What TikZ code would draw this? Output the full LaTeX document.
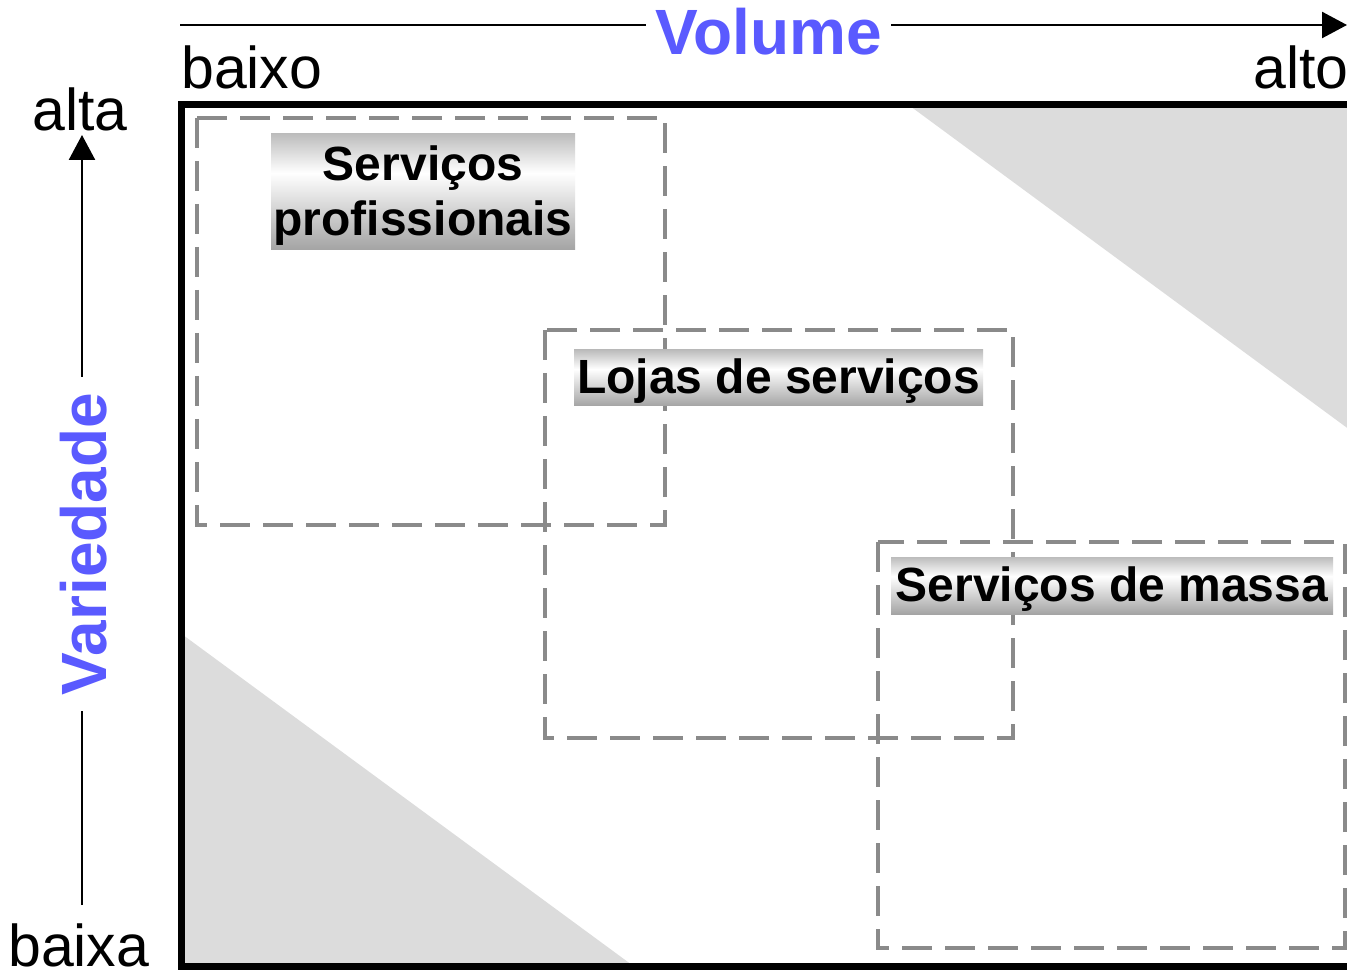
\documentclass[tikz,border=0pt]{standalone}
\usepackage{fontspec}
\setmainfont{Liberation Sans}
\usetikzlibrary{arrows.meta}
\definecolor{volblue}{HTML}{5A5AFF}
\definecolor{zonegray}{HTML}{DCDCDC}
\definecolor{dashgray}{HTML}{8A8A8A}
\definecolor{ltop}{HTML}{BCBCBC}
\definecolor{lbot}{HTML}{A4A4A4}
\pgfdeclareverticalshading{metal}{100bp}{color(0bp)=(lbot); color(25bp)=(lbot); color(58bp)=(white); color(75bp)=(ltop); color(100bp)=(ltop)}
\tikzset{
  zone/.style={fill=zonegray, draw=none},
  dashbox/.style={draw=dashgray, line width=3.5pt, dash pattern=on 30pt off 13pt},
  lab/.style={shade, shading=metal, inner sep=0pt, align=center,
    font=\bfseries\fontsize{48}{55}\selectfont},
  axislabel/.style={inner sep=0pt, font=\fontsize{59}{62}\selectfont},
  bigblue/.style={fill=white, text=volblue, font=\bfseries\fontsize{64}{66}\selectfont},
  axisline/.style={line width=2.5pt, -{Triangle[length=25pt,width=26pt]}},
  frame/.style={draw=black, line width=7pt}
}
\begin{document}
\begin{tikzpicture}[x=1pt,y=-1pt]
\clip (0,0) rectangle (1347,973);
\fill[white] (0,0) rectangle (1347,973);
% gray zones
\fill[zone] (910,106) -- (1350,106) -- (1350,430) -- cycle;
\fill[zone] (183,635) -- (183,965) -- (632,965) -- cycle;
% dashed boxes
\draw[dashbox] (197,118) rectangle (665,525);
\draw[dashbox] (545,330) rectangle (1013,738);
\draw[dashbox] (878,542) rectangle (1345,948);
% labels
\node[lab, text depth=2pt, minimum width=304pt, minimum height=116pt] (prof) at (423,191.5) {Serviços\\profissionais};
\node[lab, text height=34pt, text depth=2pt, minimum width=409pt, minimum height=56pt] (lojas) at (778.5,378) {Lojas de serviços};
\node[lab, text height=34pt, text depth=2pt, minimum width=442pt, minimum height=57pt] (massa) at (1112,585.5) {Serviços de massa};
% frame
\draw[frame] (1360,104.5) -- (181.5,104.5) -- (181.5,966.5) -- (1360,966.5);
% top axis
\coordinate (hstart) at (180,25);
\coordinate (hend) at (1347,25);
\draw[axisline] (hstart) -- (hend);
\node[bigblue, inner xsep=9pt, inner ysep=2pt, anchor=base] (vol) at (768.5,55) {Volume};
\node[axislabel, anchor=base west] (baixo) at (181,89) {baixo};
\node[axislabel, anchor=base west] (alto) at (1253,89) {alto};
% left axis
\coordinate (vstart) at (82,905);
\coordinate (vend) at (82,135);
\draw[axisline] (vstart) -- (vend);
\node[bigblue, rotate=90, inner xsep=16pt, inner ysep=2pt, anchor=base] (var) at (106.5,544) {Variedade};
\node[axislabel, anchor=base west] (alta) at (32,131) {alta};
\node[axislabel, anchor=base west] (baixa) at (8,966) {baixa};
\end{tikzpicture}
\end{document}
